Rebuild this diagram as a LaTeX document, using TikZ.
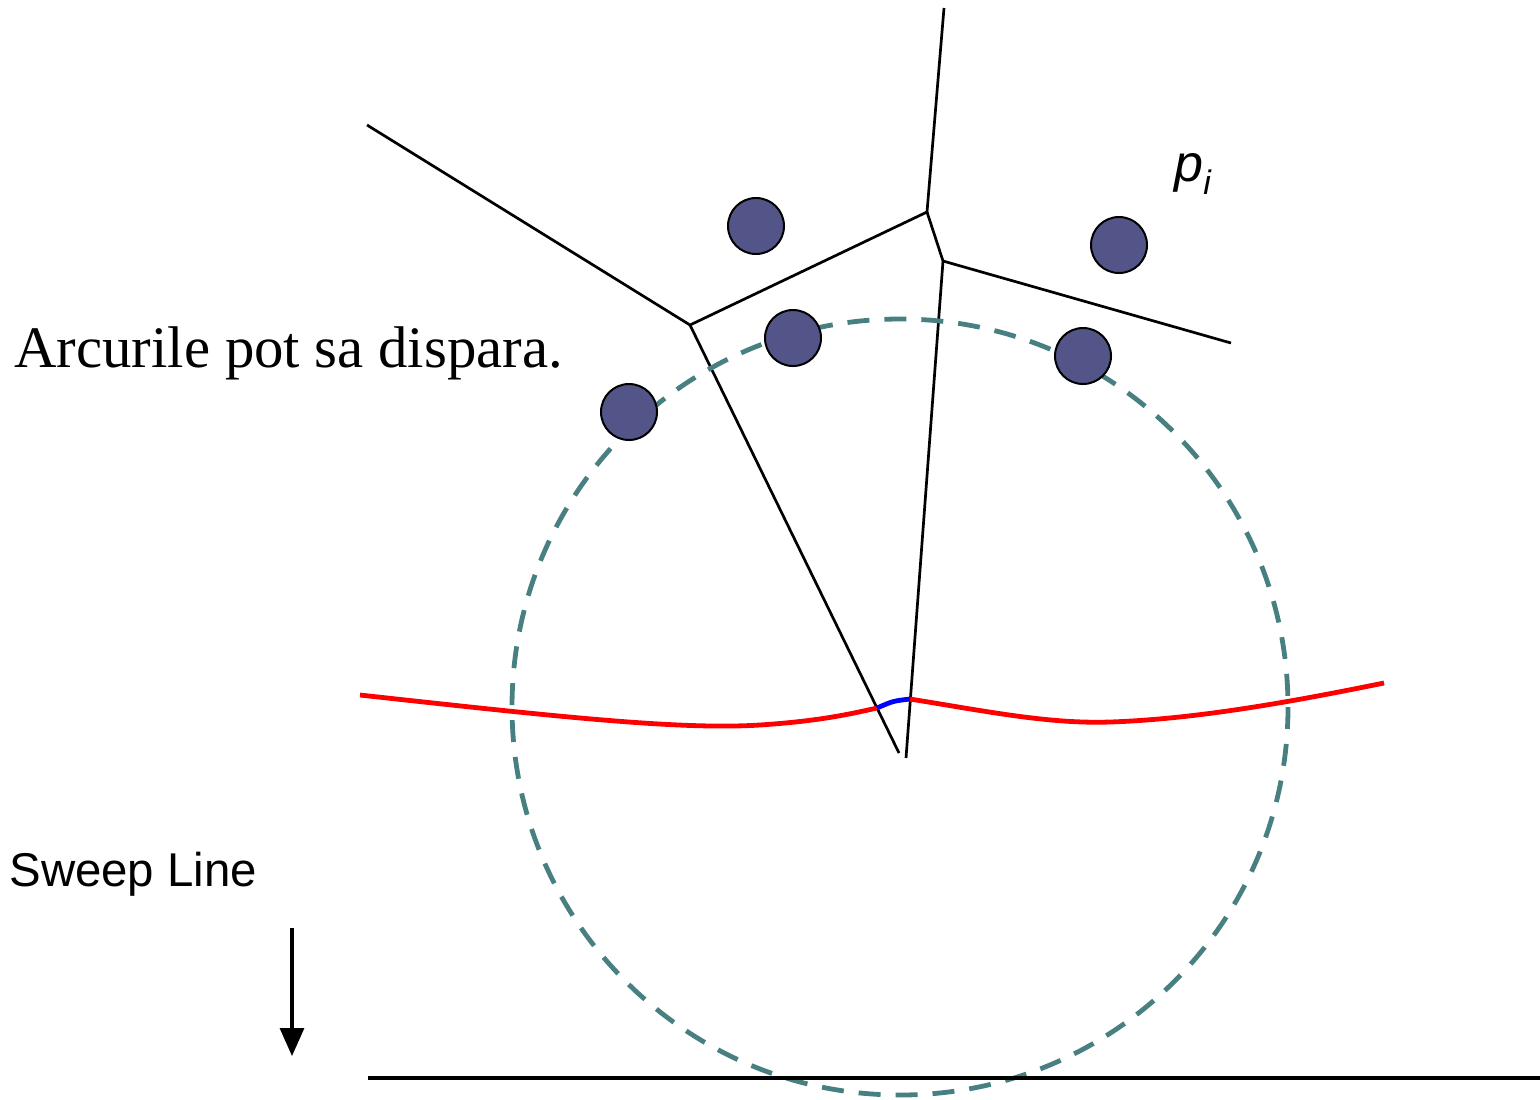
\documentclass[tikz,border=0pt]{standalone}
\usepackage{fontspec}
\setmainfont{Liberation Serif}
\setsansfont{Liberation Sans}
\usetikzlibrary{arrows.meta}
\definecolor{siteblue}{RGB}{83,84,135}
\definecolor{circteal}{RGB}{72,128,130}
\definecolor{beachred}{RGB}{255,0,0}
\definecolor{arcblue}{RGB}{0,0,255}
\tikzset{
  site/.style={circle,draw=black,line width=1pt,fill=siteblue,minimum size=28pt,inner sep=0pt},
  vedge/.style={line width=1.35pt,black},
  beach/.style={line width=2.4pt,beachred},
  eventcircle/.style={line width=2.4pt,circteal,dash pattern=on 11pt off 7.5pt},
}
\begin{document}
\begin{tikzpicture}[x=0.5pt,y=-0.5pt]
\useasboundingbox (0,0) rectangle (1540,1099);
% Voronoi vertices and ends
\coordinate (e1) at (367,125);
\coordinate (v1) at (690,325);
\coordinate (v2) at (927,212);
\coordinate (e2) at (944,8);
\coordinate (v3) at (943,261);
\coordinate (e3) at (1231,343);
\coordinate (e4) at (899,753);
\coordinate (e5) at (906,758);
\draw[vedge] (e1) -- (v1) -- (v2) -- (e2);
\draw[vedge] (v2) -- (v3) -- (e3);
\draw[vedge] (v1) -- (e4);
\draw[vedge] (v3) -- (e5);
% event circle
\coordinate (cc) at (900,707);
\draw[eventcircle] (cc) circle[radius=388];
% sites
\node[site] (s1) at (756,226) {};
\node[site] (s2) at (1119,245) {};
\node[site] (s3) at (793,338) {};
\node[site] (s4) at (629,412) {};
\node[site] (s5) at (1083,356) {};
% beach line
\coordinate (b0) at (360,695);
\coordinate (b1) at (877,708);
\coordinate (b2) at (910,699);
\coordinate (b3) at (1384,683);
\draw[beach] (b0) .. controls (560,717) and (680,730) .. (760,725) .. controls (820,721) and (850,714) .. (b1);
\draw[line width=2.4pt,arcblue] (b1) .. controls (893,701) .. (b2);
\draw[beach] (b2) .. controls (990,712) and (1050,724) .. (1110,722) .. controls (1200,719) and (1300,700) .. (b3);
% sweep line
\coordinate (sl0) at (368,1078);
\coordinate (sl1) at (1540,1078);
\draw[line width=2pt,black] (sl0) -- (sl1);
\coordinate (a0) at (292,928);
\coordinate (a1) at (292,1056);
\draw[line width=1.6pt,-{Triangle[length=14pt,width=12pt]}] (a0) -- (a1);
% texts
\node[anchor=base west,inner sep=0pt,font=\fontsize{29.4}{35}\selectfont] (t1) at (14,367) {Arcurile pot sa dispara.};
\node[anchor=base west,inner sep=0pt,font=\sffamily\fontsize{23.7}{28}\selectfont] (t2) at (9,886) {Sweep Line};
\node[anchor=base west,inner sep=0pt,font=\sffamily\itshape\fontsize{26}{30}\selectfont] (t3) at (1174,181) {p\raisebox{-0.25em}{\fontsize{17}{20}\selectfont i}};
\end{tikzpicture}
\end{document}
